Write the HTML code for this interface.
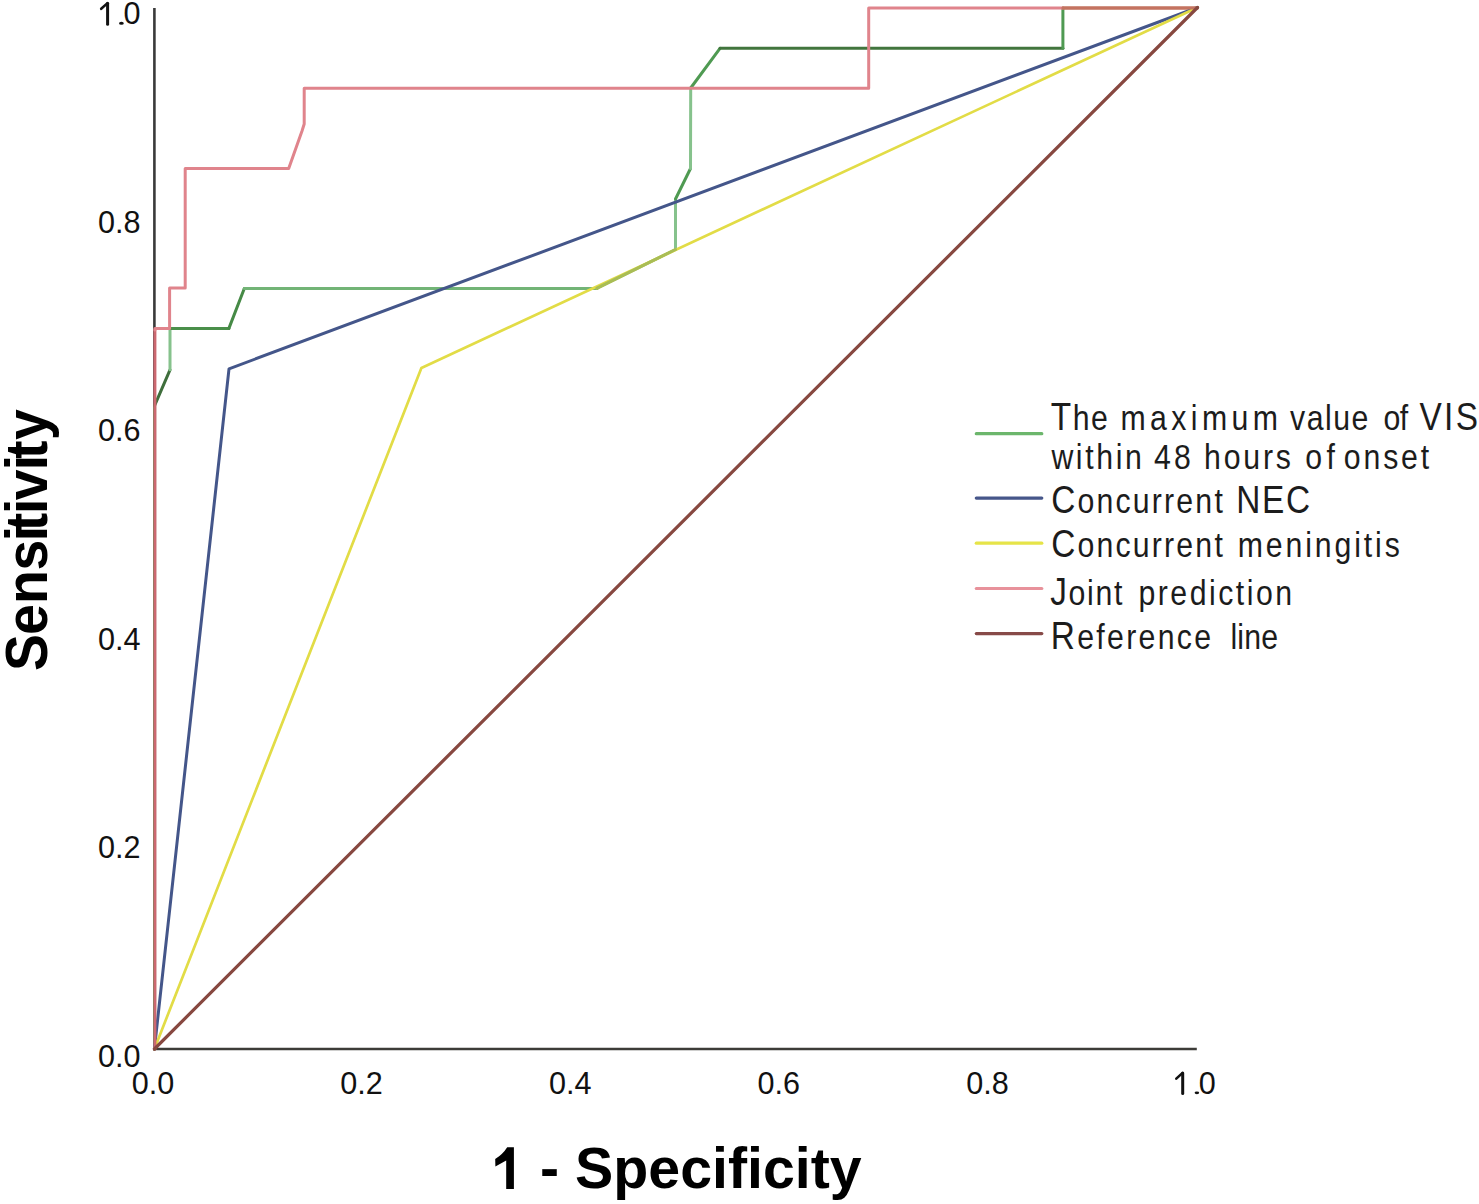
<!DOCTYPE html>
<html>
<head>
<meta charset="utf-8">
<style>
html,body{margin:0;padding:0;background:#fff;}
body{width:1479px;height:1204px;overflow:hidden;}
svg{display:block;}
text{font-family:"Liberation Sans",sans-serif;font-variant-ligatures:none;}
</style>
</head>
<body>
<svg width="1479" height="1204" viewBox="0 0 1479 1204">
<rect width="1479" height="1204" fill="#fff"/>

<!-- axes -->
<line x1="154.4" y1="8" x2="154.4" y2="1050.2" stroke="#3a3a3a" stroke-width="2.6"/>
<line x1="153.2" y1="1049" x2="1196.8" y2="1049" stroke="#3d3c38" stroke-width="2.6"/>

<!-- y tick labels -->
<g font-size="30.6" fill="#111" text-anchor="end">
<text x="140.5" y="24.4">0</text>
<text x="140.5" y="232.6">0.8</text>
<text x="140.5" y="441.1">0.6</text>
<text x="140.5" y="649.6">0.4</text>
<text x="140.5" y="858.1">0.2</text>
<text x="140.5" y="1066.6">0.0</text>
</g>
<!-- x tick labels -->
<g font-size="30.6" fill="#111" text-anchor="middle">
<text x="153.1" y="1093.7">0.0</text>
<text x="361.5" y="1093.7">0.2</text>
<text x="570.2" y="1093.7">0.4</text>
<text x="778.8" y="1093.7">0.6</text>
<text x="987.5" y="1093.7">0.8</text>

</g>

<!-- custom "1." glyphs for 1.0 labels -->
<g fill="none" stroke="#111" stroke-linecap="round">
<path d="M107.6 24.2 L107.6 3.2" stroke-width="3"/>
<path d="M107.2 3.4 L101.2 8.8" stroke-width="2.6"/>
<path d="M1182.7 1093.6 L1182.7 1072.9" stroke-width="3"/>
<path d="M1182.3 1073.1 L1176.3 1078.6" stroke-width="2.6"/>
</g>
<g fill="#111">
<ellipse cx="121.4" cy="23.3" rx="2.4" ry="1.5"/>
<ellipse cx="1196.9" cy="1092.8" rx="2.3" ry="1.4"/>
<text x="1215.8" y="1093.7" font-size="30.6" text-anchor="end">0</text>
</g>
<!-- titles -->
<path d="M513.9 1147.2 L513.9 1188.9 L506.2 1188.9 L506.2 1160.6 L495.4 1166.6 L495.2 1159.1 Q503 1154 507.2 1147.2 Z" fill="#000"/>
<text x="540" y="1188.2" font-size="57.2" font-weight="bold" fill="#000" textLength="321.7" lengthAdjust="spacingAndGlyphs">- Specificity</text>
<text transform="translate(46.5,0) rotate(-90) scale(0.95,1)" x="-706.2 -668.3 -635.9 -600.4 -569.7 -559.1 -541.0 -526.5 -494.9 -483.2 -463.2" y="0" font-size="58.3" font-weight="bold" fill="#000">Sensitivity</text>

<!-- curves -->
<g fill="none" stroke-linejoin="round" stroke-linecap="round" stroke-width="3">
<!-- green: VIS -->
<line x1="154.6" y1="1049" x2="154.6" y2="405.7" stroke="#4f9a52"/>
<line x1="154.6" y1="405.7" x2="170" y2="369.8" stroke="#3f6e3c"/>
<line x1="170" y1="369.8" x2="170" y2="328.4" stroke="#86c28c"/>
<line x1="170" y1="328.4" x2="228.9" y2="328.4" stroke="#4a8f4a"/>
<line x1="228.9" y1="328.4" x2="244.3" y2="288.5" stroke="#468a46"/>
<line x1="244.3" y1="288.5" x2="597" y2="288.5" stroke="#72b476"/>
<line x1="597" y1="288.5" x2="675.5" y2="249.5" stroke="#a9bd55"/>
<line x1="675.5" y1="249.5" x2="675.5" y2="199" stroke="#86c28c"/>
<line x1="675.5" y1="199" x2="690.5" y2="168.5" stroke="#4f9a52"/>
<line x1="690.5" y1="168.5" x2="690.7" y2="88" stroke="#86c28c"/>
<line x1="690.7" y1="88" x2="720" y2="48.3" stroke="#4f9a52"/>
<line x1="720" y1="48.3" x2="1062.9" y2="48.3" stroke="#41753d"/>
<line x1="1062.9" y1="48.3" x2="1062.9" y2="8" stroke="#4f9a52"/>
<line x1="1062.9" y1="8" x2="1197.5" y2="8" stroke="#c07058"/>
<!-- blue: concurrent NEC -->
<polyline points="154.4,1049 229,368.8 1197.5,7.5" stroke="#44568a"/>
<!-- yellow: concurrent meningitis -->
<polyline points="154.4,1049 421.4,368 1197.5,7.5" stroke="#e2dc46" stroke-width="2.7"/>
<line x1="597" y1="288" x2="675.5" y2="249.5" stroke="#a9bd55"/>
<!-- red: joint prediction -->
<line x1="154.9" y1="1049" x2="154.9" y2="330" stroke="#cc6870"/>
<polyline points="154.9,330 154.9,328.4 169.6,328.4 169.6,288 185.2,288 185.2,168.4 288.7,168.4 302,131 304.2,124 304.2,88.3 868.7,88.3 868.7,8 1062.9,8" stroke="#e0848c"/>
<line x1="1062.9" y1="8" x2="1197" y2="8" stroke="#c47360"/>
<!-- reference -->
<line x1="154.4" y1="1049" x2="1197.5" y2="7.5" stroke="#874840" stroke-width="3.2"/>
</g>

<!-- legend -->
<g stroke-width="3.2" stroke-linecap="round">
<line x1="976.3" y1="433.7" x2="1041.8" y2="433.7" stroke="#6cb66c"/>
<line x1="976.3" y1="498.1" x2="1041.8" y2="498.1" stroke="#46568a"/>
<line x1="976.3" y1="543.2" x2="1041.8" y2="543.2" stroke="#e6e448"/>
<line x1="976.3" y1="588.5" x2="1041.8" y2="588.5" stroke="#e8929b"/>
<line x1="976.3" y1="633.6" x2="1041.8" y2="633.6" stroke="#874a48"/>
</g>
<g fill="#1c1c1c">
<text transform="translate(1050.80,430.4) scale(0.85,1)" font-size="35.6" textLength="67.06" lengthAdjust="spacing"><tspan font-size="39.3">T</tspan>he</text>
<text transform="translate(1120.40,430.4) scale(0.85,1)" font-size="35.6" textLength="185.41" lengthAdjust="spacing">maximum</text>
<text transform="translate(1290.00,430.4) scale(0.85,1)" font-size="35.6" textLength="92.24" lengthAdjust="spacing">value</text>
<text transform="translate(1383.40,430.4) scale(0.85,1)" font-size="35.6" textLength="29.18" lengthAdjust="spacing">of</text>
<text transform="translate(1419.40,430.4) scale(0.85,1)" font-size="35.6" textLength="68.94" lengthAdjust="spacing"><tspan font-size="39.3">V</tspan><tspan font-size="39.3">I</tspan><tspan font-size="39.3">S</tspan></text>
<text transform="translate(1051.40,468.6) scale(0.85,1)" font-size="35.6" textLength="106.35" lengthAdjust="spacing">within</text>
<text transform="translate(1154.00,468.6) scale(0.85,1)" font-size="35.6" textLength="43.29" lengthAdjust="spacing">48</text>
<text transform="translate(1204.00,468.6) scale(0.85,1)" font-size="35.6" textLength="102.35" lengthAdjust="spacing">hours</text>
<text transform="translate(1305.20,468.6) scale(0.85,1)" font-size="35.6" textLength="34.82" lengthAdjust="spacing">of</text>
<text transform="translate(1343.80,468.6) scale(0.85,1)" font-size="35.6" textLength="100.47" lengthAdjust="spacing">onset</text>
<text transform="translate(1051.20,513.3) scale(0.85,1)" font-size="35.6" textLength="201.88" lengthAdjust="spacing"><tspan font-size="39.3">C</tspan>oncurrent</text>
<text transform="translate(1236.20,513.3) scale(0.85,1)" font-size="35.6" textLength="87.06" lengthAdjust="spacing"><tspan font-size="39.3">N</tspan><tspan font-size="39.3">E</tspan><tspan font-size="39.3">C</tspan></text>
<text transform="translate(1051.20,557.4) scale(0.85,1)" font-size="35.6" textLength="201.88" lengthAdjust="spacing"><tspan font-size="39.3">C</tspan>oncurrent</text>
<text transform="translate(1237.80,557.4) scale(0.85,1)" font-size="35.6" textLength="190.59" lengthAdjust="spacing">meningitis</text>
<text transform="translate(1050.20,604.8) scale(0.85,1)" font-size="35.6" textLength="84.94" lengthAdjust="spacing"><tspan font-size="39.3">J</tspan>oint</text>
<text transform="translate(1138.40,604.8) scale(0.85,1)" font-size="35.6" textLength="180.94" lengthAdjust="spacing">prediction</text>
<text transform="translate(1050.80,648.9) scale(0.85,1)" font-size="35.6" textLength="188.47" lengthAdjust="spacing"><tspan font-size="39.3">R</tspan>eference</text>
<text transform="translate(1230.40,648.9) scale(0.85,1)" font-size="35.6" textLength="56.00" lengthAdjust="spacing">line</text>
</g>
</svg>
</body>
</html>
